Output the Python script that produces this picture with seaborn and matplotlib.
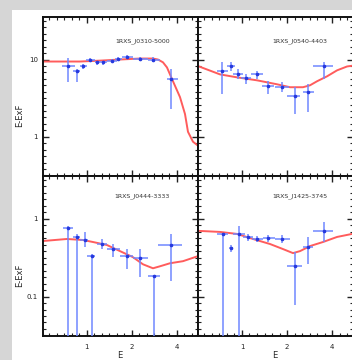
import numpy as np
import matplotlib
matplotlib.use('Agg')
import matplotlib.pyplot as plt
from matplotlib.patches import Rectangle
import seaborn as sns

sns.set_style('ticks')
plt.rcParams['font.family'] = ['DejaVu Sans']

# ---- data (energy in keV, flux E*F) ----
names = ["1RXS_J0310-5000", "1RXS_J0540-4403", "1RXS_J0444-3333", "1RXS_J1425-3745"]

# top left
tl_e = [0.746, 0.857, 0.940, 1.047, 1.167, 1.280, 1.470, 1.612, 1.852, 2.262, 2.764, 3.647]
tl_elo = [0.680, 0.806, 0.898, 0.985, 1.131, 1.220, 1.361, 1.539, 1.715, 2.031, 2.559, 3.429]
tl_ehi = [0.831, 0.898, 1.000, 1.131, 1.220, 1.361, 1.585, 1.715, 2.031, 2.559, 3.078, 4.062]
tl_f = [8.13, 7.02, 8.13, 10.0, 9.16, 9.16, 9.7, 10.3, 10.9, 10.3, 10.0, 5.54]
tl_flo = [5.07, 5.07, 7.5, 9.4, 8.6, 8.6, 9.2, 9.8, 10.3, 9.7, 9.16, 2.29]
tl_fhi = [10.6, 7.45, 8.8, 10.6, 9.7, 9.7, 10.2, 10.8, 11.5, 10.9, 10.9, 7.45]
tl_me = [0.508, 0.660, 0.898, 1.260, 1.663, 2.262, 2.764, 2.985, 3.224, 3.429, 3.761, 4.190, 4.525, 4.738, 5.118, 5.528]
tl_mf = [9.42, 9.42, 9.42, 9.7, 10.0, 10.3, 10.3, 10.0, 9.2, 7.9, 5.23, 3.26, 1.97, 1.16, 0.863, 0.767]

# top right
tr_e = [0.735, 0.844, 0.940, 1.064, 1.260, 1.493, 1.852, 2.262, 2.764, 3.536]
tr_elo = [0.680, 0.794, 0.871, 0.985, 1.149, 1.361, 1.663, 1.998, 2.559, 2.985]
tr_ehi = [0.806, 0.898, 1.015, 1.149, 1.382, 1.637, 2.063, 2.443, 3.031, 4.062]
tr_f = [7.02, 8.13, 6.42, 5.71, 6.42, 4.51, 4.38, 3.36, 3.78, 8.13]
tr_flo = [3.56, 7.02, 5.54, 4.78, 5.54, 3.56, 3.78, 1.97, 2.09, 5.54]
tr_fhi = [9.42, 9.42, 7.45, 6.42, 7.02, 5.23, 5.07, 4.38, 4.78, 9.42]
tr_me = [0.516, 0.713, 0.926, 1.260, 1.715, 2.095, 2.559, 2.850, 3.175, 3.703, 4.320, 5.040, 5.443]
tr_mf = [8.13, 6.42, 5.88, 5.38, 4.78, 4.38, 4.38, 4.64, 5.23, 6.06, 7.24, 8.13, 8.30]

# bottom left
bl_e = [0.746, 0.857, 0.970, 1.080, 1.260, 1.493, 1.852, 2.262, 2.807, 3.647]
bl_elo = [0.693, 0.806, 0.898, 1.000, 1.167, 1.361, 1.663, 2.031, 2.559, 2.985]
bl_ehi = [0.806, 0.898, 1.015, 1.131, 1.361, 1.663, 2.031, 2.559, 3.078, 4.320]
bl_f = [0.764, 0.584, 0.534, 0.331, 0.474, 0.408, 0.331, 0.312, 0.182, 0.460]
bl_flo = [0.01, 0.01, 0.433, 0.01, 0.408, 0.321, 0.224, 0.177, 0.01, 0.157]
bl_fhi = [0.80, 0.639, 0.678, 0.35, 0.550, 0.474, 0.408, 0.408, 0.19, 0.639]
bl_me = [0.508, 0.735, 0.940, 1.097, 1.361, 1.663, 2.031, 2.369, 2.764, 3.078, 3.591, 4.387, 5.528]
bl_mf = [0.518, 0.550, 0.534, 0.503, 0.460, 0.384, 0.321, 0.260, 0.231, 0.245, 0.268, 0.285, 0.331]

# bottom right
br_e = [0.746, 0.844, 0.955, 1.097, 1.260, 1.493, 1.852, 2.262, 2.764, 3.536]
br_elo = [0.680, 0.819, 0.871, 1.015, 1.167, 1.382, 1.663, 1.998, 2.559, 2.985]
br_ehi = [0.806, 0.871, 1.047, 1.184, 1.382, 1.663, 2.095, 2.518, 2.985, 4.062]
br_f = [0.639, 0.420, 0.639, 0.584, 0.550, 0.566, 0.550, 0.245, 0.433, 0.699]
br_flo = [0.01, 0.373, 0.01, 0.518, 0.503, 0.503, 0.494, 0.0787, 0.260, 0.503]
br_fhi = [0.66, 0.460, 0.811, 0.639, 0.600, 0.620, 0.610, 0.373, 0.584, 0.914]
br_me = [0.516, 0.713, 0.926, 1.184, 1.539, 1.880, 2.193, 2.443, 2.850, 3.482, 4.320, 5.443]
br_mf = [0.699, 0.678, 0.639, 0.550, 0.474, 0.408, 0.362, 0.384, 0.446, 0.503, 0.584, 0.639]

panels = [
    (tl_e, tl_elo, tl_ehi, tl_f, tl_flo, tl_fhi, tl_me, tl_mf),
    (tr_e, tr_elo, tr_ehi, tr_f, tr_flo, tr_fhi, tr_me, tr_mf),
    (bl_e, bl_elo, bl_ehi, bl_f, bl_flo, bl_fhi, bl_me, bl_mf),
    (br_e, br_elo, br_ehi, br_f, br_flo, br_fhi, br_me, br_mf),
]

fig, axes = plt.subplots(2, 2, figsize=(3.52, 3.6), dpi=100, sharex=True, sharey='row')
fig.subplots_adjust(left=0.122, right=1.003, top=0.953, bottom=0.067, wspace=0, hspace=0)
fig.patch.set_facecolor('#d6d6d6')
fig.add_artist(Rectangle((12 / 352, 0), 1, 1 - 10 / 360, transform=fig.transFigure,
                         facecolor='white', edgecolor='none', zorder=-5))

for i, ax in enumerate(axes.flat):
    e, elo, ehi, f, flo, fhi, me, mf = [np.array(a) for a in panels[i]]
    ax.set_xscale('log', base=2)
    ax.set_yscale('log')
    sns.lineplot(x=me, y=mf, ax=ax, color='#ff5c5c', lw=1.4)
    ax.errorbar(e, f, xerr=[e - elo, ehi - e], yerr=[f - flo, fhi - f], fmt='o', ms=1.6,
                color='#2638dd', ecolor='#7088ff', elinewidth=1.1, capsize=0, zorder=3)
    ax.text(0.64 if i % 2 == 0 else 0.66, 0.845 if i < 2 else 0.873, names[i],
            transform=ax.transAxes, ha='center', va='center', fontsize=4.5, color='#333333')
    ax.set_xticks([1, 2, 4], ['1', '2', '4'])
    ax.set_xticks(2 ** np.arange(-1, 2.5, 1 / 6), minor=True)
    ax.xaxis.set_minor_formatter(plt.NullFormatter())
    if i < 2:
        ax.set_yticks([1, 10], ['1', '10'])
    else:
        ax.set_yticks([0.1, 1], ['0.1', '1'])
    ax.set_yticks(10 ** np.arange(-2, 2, 1 / 12), minor=True)
    ax.yaxis.set_minor_formatter(plt.NullFormatter())
    ax.tick_params(which='both', direction='in', top=True, right=True, labelsize=5, colors='#222222')
    ax.tick_params(which='major', length=4, width=1)
    ax.tick_params(which='minor', length=2, width=0.8)
    ax.tick_params(axis='x', pad=6)
    for s in ax.spines.values():
        s.set_linewidth(1.4)
        s.set_color('#111111')
    ax.set_xlabel('')
    ax.set_ylabel('')

# limits last: setting ticks widens the view
for i, ax in enumerate(axes.flat):
    ax.set_xlim(0.508, 5.528)
    if i < 2:
        ax.set_ylim(0.307, 35.6)
    else:
        ax.set_ylim(0.0312, 3.51)

fig.text(20 / 352, 1 - 115 / 360, 'E-ExF', rotation=90, ha='center', va='center', fontsize=6)
fig.text(20 / 352, 1 - 275 / 360, 'E-ExF', rotation=90, ha='center', va='center', fontsize=6)
fig.text(120 / 352, 1 - 356 / 360, 'E', ha='center', va='center', fontsize=6)
fig.text(275 / 352, 1 - 356 / 360, 'E', ha='center', va='center', fontsize=6)

fig.savefig('out.png', dpi=100, facecolor=fig.get_facecolor())
